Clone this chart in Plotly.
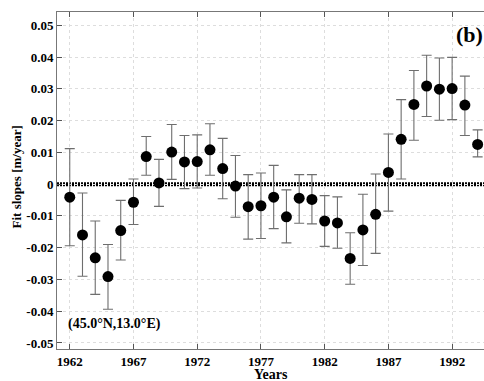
import plotly.graph_objects as go

years = list(range(1962, 1995))
slopes = [-0.0041, -0.0160, -0.0232, -0.0291, -0.0146, -0.0057, 0.0087, 0.0004, 0.0101, 0.0070,
          0.0071, 0.0108, 0.0049, -0.0006, -0.0071, -0.0068, -0.0041, -0.0103, -0.0044, -0.0048,
          -0.0116, -0.0122, -0.0234, -0.0144, -0.0095, 0.0037, 0.0141, 0.0251, 0.0309, 0.0299,
          0.0301, 0.0249, 0.0125]
upper = [0.0112, -0.0028, -0.0116, -0.0190, -0.0051, 0.0016, 0.0150, 0.0078, 0.0188, 0.0153,
         0.0155, 0.0190, 0.0144, 0.0090, 0.0030, 0.0035, 0.0059, -0.0018, 0.0030, 0.0030,
         -0.0036, -0.0040, -0.0153, -0.0032, 0.0032, 0.0158, 0.0266, 0.0358, 0.0406, 0.0397,
         0.0399, 0.0340, 0.0171]
lower = [-0.0194, -0.0290, -0.0347, -0.0394, -0.0239, -0.0127, 0.0028, -0.0070, 0.0015, -0.0014,
         -0.0012, 0.0028, -0.0046, -0.0104, -0.0173, -0.0171, -0.0140, -0.0185, -0.0123, -0.0125,
         -0.0196, -0.0202, -0.0315, -0.0256, -0.0218, -0.0085, 0.0016, 0.0138, 0.0213, 0.0201,
         0.0203, 0.0153, 0.0086]
x_ticks = [1962, 1967, 1972, 1977, 1982, 1987, 1992]
y_ticks = [0.05, 0.04, 0.03, 0.02, 0.01, 0, -0.01, -0.02, -0.03, -0.04, -0.05]
y_ticklabels = ["0.05", "0.04", "0.03", "0.02", "0.01", "0", "-0.01", "-0.02", "-0.03", "-0.04", "-0.05"]

err_plus = [u - s for u, s in zip(upper, slopes)]
err_minus = [s - l for s, l in zip(slopes, lower)]

FONT = "Liberation Serif"

fig = go.Figure()
fig.add_trace(go.Scatter(
    x=years, y=slopes, mode="markers",
    marker=dict(color="black", size=11),
    error_y=dict(type="data", symmetric=False, array=err_plus, arrayminus=err_minus,
                 color="#6e6e6e", thickness=1.1, width=5),
    showlegend=False,
))

fig.add_shape(type="line", xref="paper", yref="y", x0=0, x1=1, y0=0, y1=0,
              line=dict(color="black", width=4, dash="2px,1px"), layer="below")

fig.add_annotation(text="<b>(b)</b>", xref="paper", yref="paper", x=0.967, y=0.932,
                   xanchor="center", yanchor="middle",
                   showarrow=False, font=dict(family=FONT, size=22, color="black"))
fig.add_annotation(text="<b>(45.0°N,13.0°E)</b>", xref="paper", yref="paper", x=0.021, y=0.074,
                   xanchor="left", yanchor="middle", showarrow=False,
                   font=dict(family=FONT, size=14, color="black"))
fig.add_annotation(text="<b>Years</b>", xref="paper", yref="paper", x=0.5, y=-0.075,
                   xanchor="center", yanchor="middle", showarrow=False,
                   font=dict(family=FONT, size=14, color="black"))
fig.add_annotation(text="<b>Fit slopes [m/year]</b>", xref="paper", yref="paper", x=-0.096, y=0.509,
                   xanchor="center", yanchor="middle", textangle=-90, showarrow=False,
                   font=dict(family=FONT, size=13, color="black"))

fig.update_layout(
    width=484, height=381,
    margin=dict(l=57, r=0, t=12, b=32),
    paper_bgcolor="white", plot_bgcolor="white",
    font=dict(family=FONT, color="black"),
)
fig.update_xaxes(
    range=[1961, 1994.5], tickvals=x_ticks, ticks="inside", ticklen=5, tickcolor="#555",
    showline=True, linecolor="#777", linewidth=1, mirror="allticks", automargin=False,
    showgrid=True, gridcolor="#dddddd", griddash="dot", zeroline=False,
    tickfont=dict(family=FONT, size=13, color="black", weight="bold"),
)
fig.update_yaxes(
    range=[-0.0519, 0.0542], tickvals=y_ticks, ticktext=y_ticklabels, ticks="inside", ticklen=5,
    tickcolor="#555", showline=True, linecolor="#777", linewidth=1, automargin=False,
    showgrid=True, gridcolor="#dddddd", griddash="dot", zeroline=False,
    tickfont=dict(family=FONT, size=13, color="black", weight="bold"),
)

fig.write_html("out.html", config={"displayModeBar": False},
               post_script="document.body.style.margin='0';document.body.style.overflow='hidden';")
